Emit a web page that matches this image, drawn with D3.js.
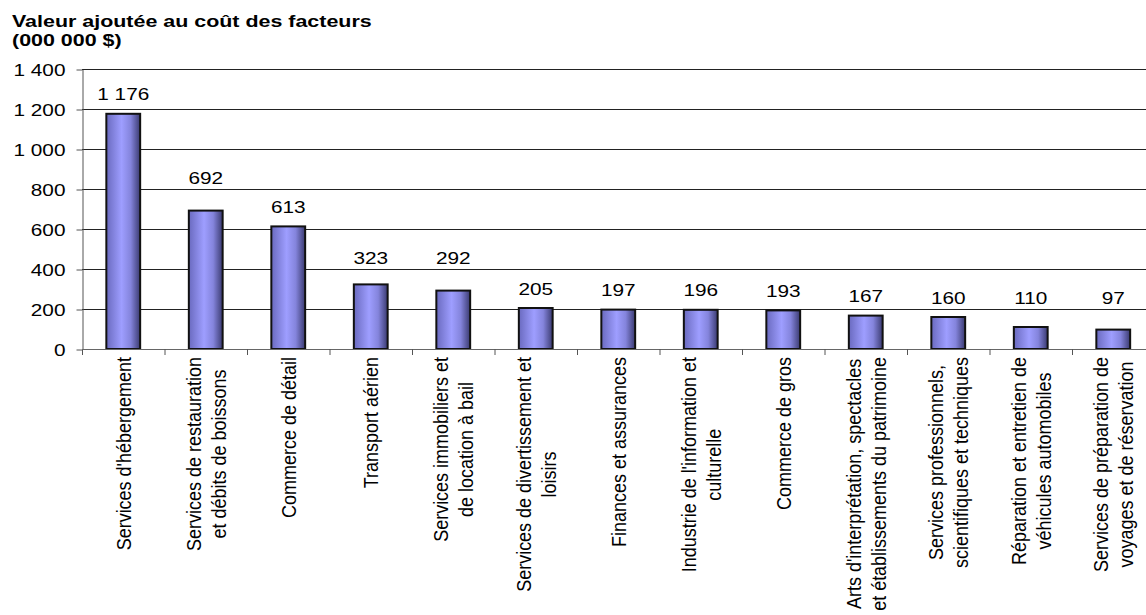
<!DOCTYPE html>
<html>
<head>
<meta charset="utf-8">
<script src="https://cdn.jsdelivr.net/npm/d3@7"></script>
<style>
  body { margin: 0; background: #fff; }
  svg { display: block; font-family: Arial, "Liberation Sans", sans-serif; }
</style>
</head>
<body>
<div id="vis"></div>
<script>
const categories = [
  ["Services d'hébergement"],
  ["Services de restauration", "et débits de boissons"],
  ["Commerce de détail"],
  ["Transport aérien"],
  ["Services immobiliers et", "de location à bail"],
  ["Services de divertissement et", "loisirs"],
  ["Finances et assurances"],
  ["Industrie de l'information et", "culturelle"],
  ["Commerce de gros"],
  ["Arts d'interprétation, spectacles", "et établissements du patrimoine"],
  ["Services professionnels,", "scientifiques et techniques"],
  ["Réparation et entretien de", "véhicules automobiles"],
  ["Services de préparation de", "voyages et de réservation"],
];
const values = [1176, 692, 613, 323, 292, 205, 197, 196, 193, 167, 160, 110, 97];
const yTicks = [0, 200, 400, 600, 800, 1000, 1200, 1400];
const titleLines = ["Valeur ajoutée au coût des facteurs", "(000 000 $)"];

const W = 1146, H = 615;
const plot = { left: 82, right: 1154.5, top: 69, bottom: 349 };
const sx = 1.3;      // horizontal stretch of horizontal text
const sxTitle = 1.34;
const sxRot = 1.15;  // horizontal stretch of rotated labels

const fr = d3.formatLocale({ decimal: ",", thousands: " ", grouping: [3], currency: ["", " $"] });
const fmt = fr.format(",d");

const data = categories.map((c, i) => ({ id: i, lines: c, value: values[i] }));

const svg = d3.select("#vis").append("svg")
  .attr("width", W).attr("height", H);

const grad = svg.append("defs").append("linearGradient")
  .attr("id", "barGrad").attr("x1", "0%").attr("x2", "100%").attr("y1", "0%").attr("y2", "0%");
[[0, "#6a6abf"], [0.45, "#9e9eff"], [0.72, "#8484dc"], [1, "#3a3a70"]].forEach(([o, c]) =>
  grad.append("stop").attr("offset", o).attr("stop-color", c));

const x = d3.scaleBand()
  .domain(data.map((d) => d.id))
  .range([plot.left, plot.right])
  .paddingInner(0.59)
  .paddingOuter(0.295);

const y = d3.scaleLinear().domain([0, 1400]).range([plot.bottom, plot.top]);

// title
svg.append("g").selectAll("text")
  .data(titleLines)
  .join("text")
  .attr("transform", (d, i) => `translate(12,${26.7 + i * 19.3}) scale(${sxTitle},1)`)
  .attr("font-size", 16)
  .attr("font-weight", "bold")
  .attr("fill", "#000")
  .text((d) => d);

// gridlines
svg.append("g").selectAll("line")
  .data(yTicks.filter((t) => t > 0))
  .join("line")
  .attr("x1", plot.left).attr("x2", plot.right)
  .attr("y1", (d) => y(d) + 0.5).attr("y2", (d) => y(d) + 0.5)
  .attr("stroke", "#222").attr("stroke-width", 1);

// y axis
const yAxis = svg.append("g")
  .attr("transform", `translate(${plot.left + 0.5},0.5)`)
  .call(d3.axisLeft(y).tickValues(yTicks).tickFormat(fmt).tickSize(6).tickSizeOuter(0));
yAxis.select(".domain").attr("stroke", "#555");
yAxis.selectAll(".tick line").attr("stroke", "#555");
yAxis.selectAll(".tick text")
  .attr("x", null).attr("dy", null)
  .attr("transform", `translate(-17,5.5) scale(${sx},1)`)
  .attr("font-size", 16)
  .attr("font-family", "Arial, 'Liberation Sans', sans-serif")
  .attr("fill", "#000");
// axis extends through the tick length below zero
svg.append("line")
  .attr("x1", plot.left + 0.5).attr("x2", plot.left + 0.5)
  .attr("y1", plot.bottom).attr("y2", plot.bottom + 6)
  .attr("stroke", "#555");

// bars
svg.append("g").selectAll("rect")
  .data(data)
  .join("rect")
  .attr("x", (d) => x(d.id))
  .attr("y", (d) => y(d.value))
  .attr("width", x.bandwidth())
  .attr("height", (d) => y(0) - y(d.value))
  .attr("fill", "url(#barGrad)")
  .attr("stroke", "#111")
  .attr("stroke-width", 2);

// x axis line and ticks at band boundaries
svg.append("line")
  .attr("x1", plot.left).attr("x2", plot.right)
  .attr("y1", plot.bottom + 0.5).attr("y2", plot.bottom + 0.5)
  .attr("stroke", "#666");
const step = x.step();
svg.append("g").selectAll("line")
  .data(data)
  .join("line")
  .attr("x1", (d) => x(d.id) + x.bandwidth() / 2 + step / 2 + 0.5)
  .attr("x2", (d) => x(d.id) + x.bandwidth() / 2 + step / 2 + 0.5)
  .attr("y1", plot.bottom).attr("y2", plot.bottom + 6)
  .attr("stroke", "#555");

// value labels, lifted above a gridline when it would cross the text
const capH = 11.7;
const labelY = (v) => {
  let b = y(v) - 13.5;
  yTicks.forEach((t) => {
    const g = y(t);
    if (t > 0 && g > b - capH - 1 && g < b + 2) b = g - 5.5;
  });
  return b;
};
svg.append("g").selectAll("text")
  .data(data)
  .join("text")
  .attr("transform", (d) => `translate(${x(d.id) + x.bandwidth() / 2},${labelY(d.value)}) scale(${sx},1)`)
  .attr("text-anchor", "middle")
  .attr("font-size", 16)
  .attr("fill", "#000")
  .text((d) => fmt(d.value));

// category labels, rotated
const catG = svg.append("g").selectAll("g")
  .data(data)
  .join("g")
  .attr("transform", (d) => `translate(${x(d.id) + x.bandwidth() / 2},357) scale(${sxRot},1) rotate(-90)`);

catG.each(function (d) {
  const g = d3.select(this);
  const n = d.lines.length;
  const texts = g.selectAll("text")
    .data(d.lines)
    .join("text")
    .attr("font-size", 18)
    .attr("fill", "#000")
    .attr("text-anchor", "middle")
    .attr("y", (l, i) => 6.5 + (i - (n - 1) / 2) * 21.6)
    .text((l) => l);
  const maxLen = d3.max(texts.nodes(), (t) => t.getComputedTextLength());
  texts.attr("x", -maxLen / 2);
});
</script>
</body>
</html>
